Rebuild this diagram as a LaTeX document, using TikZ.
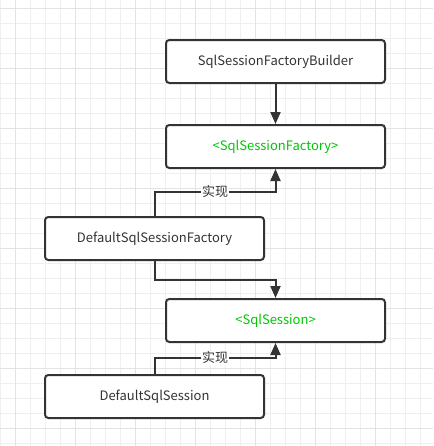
\documentclass[tikz,border=0pt]{standalone}
\usepackage{fontspec}
\setmainfont{Noto Sans CJK SC}
\usetikzlibrary{arrows.meta}
\definecolor{boxline}{HTML}{333333}
\definecolor{textgray}{HTML}{333333}
\definecolor{ifacegreen}{HTML}{00C800}
\definecolor{gridminor}{HTML}{EFEFEF}
\definecolor{gridmajor}{HTML}{E3E3E3}
\begin{document}
\begin{tikzpicture}[x=0.75pt, y=-0.75pt,
      base/.style={rectangle, rounded corners=2.5pt, minimum width=164.25pt, minimum height=32.25pt, draw=boxline, line width=1.5pt, fill=white, text=textgray, font=\fontsize{9.75}{12}\selectfont, anchor=north west},
      iface/.style={base, text=ifacegreen},
      link/.style={draw=boxline, line width=1.5pt, -{Triangle[length=9pt, width=7.5pt]}},
      tag/.style={fill=white, inner sep=1pt, text=textgray, font=\fontsize{9.75}{12}\selectfont},
      gridline/.style={draw=gridminor, line width=0.75pt},
      gridbold/.style={draw=gridmajor, line width=0.75pt}]
      \useasboundingbox[fill=white] (0,0) rectangle (433,446);
      % background grid
      \foreach \x in {0,15,...,435} \draw[gridline] (\x,0) -- (\x,446);
      \foreach \y in {8,23,...,446} \draw[gridline] (0,\y) -- (433,\y);
      \foreach \x in {15,75,...,435} \draw[gridbold] (\x,0) -- (\x,446);
      \foreach \y in {8,68,...,446} \draw[gridbold] (0,\y) -- (433,\y);
      % classes
      \node[base] (builder) at (165,39) {SqlSessionFactoryBuilder};
      \node[iface] (factory) at (165,124) {<SqlSessionFactory>};
      \node[base] (dssf) at (44,216) {DefaultSqlSessionFactory};
      \node[iface] (session) at (165,298) {<SqlSession>};
      \node[base] (dss) at (44,374) {DefaultSqlSession};
      % relations
      \draw[link] (builder) -- (factory);
      \draw[link] (dssf.north) -- ++(0,-24) -| node[tag, pos=0.25] {实现} (factory.south);
      \draw[link] (dssf.south) -- ++(0,19) -| (session.north);
      \draw[link] (dss.north) -- ++(0,-16) -| node[tag, pos=0.25] {实现} (session.south);
    \end{tikzpicture}
\end{document}
